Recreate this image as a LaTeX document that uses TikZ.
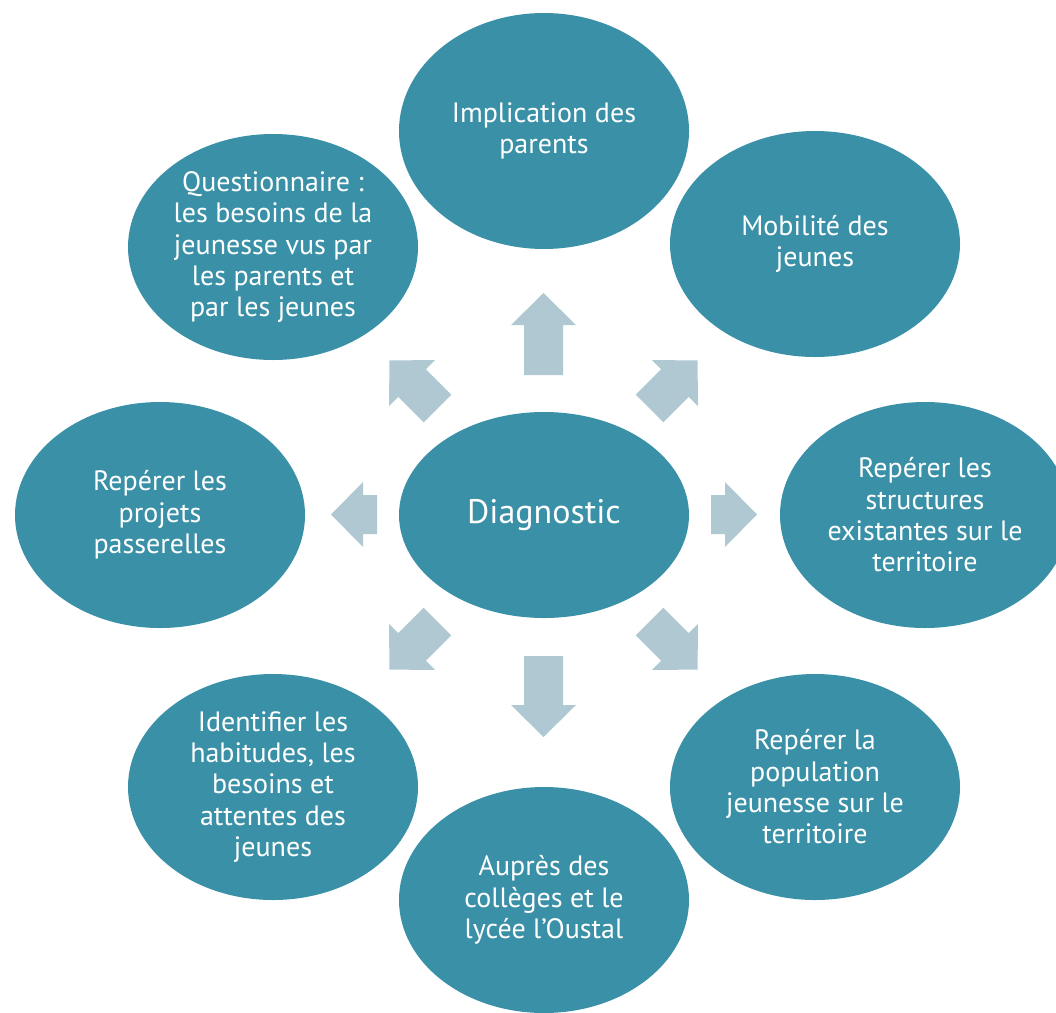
\documentclass[tikz,border=0pt]{standalone}
\usepackage{fontspec}
\setmainfont{PT Sans}
\usetikzlibrary{shapes.geometric}
\definecolor{tealfill}{RGB}{58,145,167}
\definecolor{arrowfill}{RGB}{176,200,210}
\tikzset{
  bubble/.style={ellipse, fill=tealfill, draw=none, text=white, align=center,
    minimum width=290pt, minimum height=226pt, inner sep=0pt,
    font=\fontsize{28}{31.3}\selectfont},
  hub/.style={bubble, minimum height=206pt, font=\fontsize{34}{38}\selectfont},
  blockarrow/.style={fill=arrowfill, draw=none}
}
\newcommand\bigarrow[3]{%
  \fill[blockarrow, shift={(#1)}, rotate=#2]
    (0,-19.5) -- (#3-32,-19.5) -- (#3-32,-32.5) -- (#3,0)
    -- (#3-32,32.5) -- (#3-32,19.5) -- (0,19.5) -- cycle;}
\begin{document}
\begin{tikzpicture}[x=1pt,y=-1pt]
\useasboundingbox (0,0) rectangle (1056,1012);
\node[hub] (diag) at (544,515) {Diagnostic};
\node[bubble, minimum height=236pt] (impl) at (544,131) {Implication des\\parents};
\node[bubble] (mobi) at (815,244) {Mobilité des\\jeunes};
\node[bubble] (struct) at (925,515) {Repérer les\\structures\\existantes sur le\\territoire};
\node[bubble] (popu) at (815,787) {Repérer la\\population\\jeunesse sur le\\territoire};
\node[bubble] (college) at (544,900) {Auprès des\\collèges et le\\lycée l’Oustal};
\node[bubble] (ident) at (273,787) {Identifier les\\habitudes, les\\besoins et\\attentes des\\jeunes};
\node[bubble] (passe) at (160,515) {Repérer les\\projets\\passerelles};
\node[bubble] (quest) at (273,247) {Questionnaire :\\les besoins de la\\jeunesse vus par\\les parents et\\par les jeunes};
\coordinate (aN) at (543.5,375);
\coordinate (aS) at (543.5,656);
\coordinate (aW) at (377,514.5);
\coordinate (aE) at (711,514.5);
\coordinate (aNW) at (437.5,408.5);
\coordinate (aNE) at (649.5,408.5);
\coordinate (aSW) at (437.5,621.5);
\coordinate (aSE) at (649.5,621.5);
\bigarrow{aN}{90}{82}
\bigarrow{aS}{-90}{81}
\bigarrow{aW}{180}{46}
\bigarrow{aE}{0}{46}
\bigarrow{aNW}{135}{68}
\bigarrow{aNE}{45}{68}
\bigarrow{aSW}{-135}{68}
\bigarrow{aSE}{-45}{68}
\end{tikzpicture}
\end{document}
